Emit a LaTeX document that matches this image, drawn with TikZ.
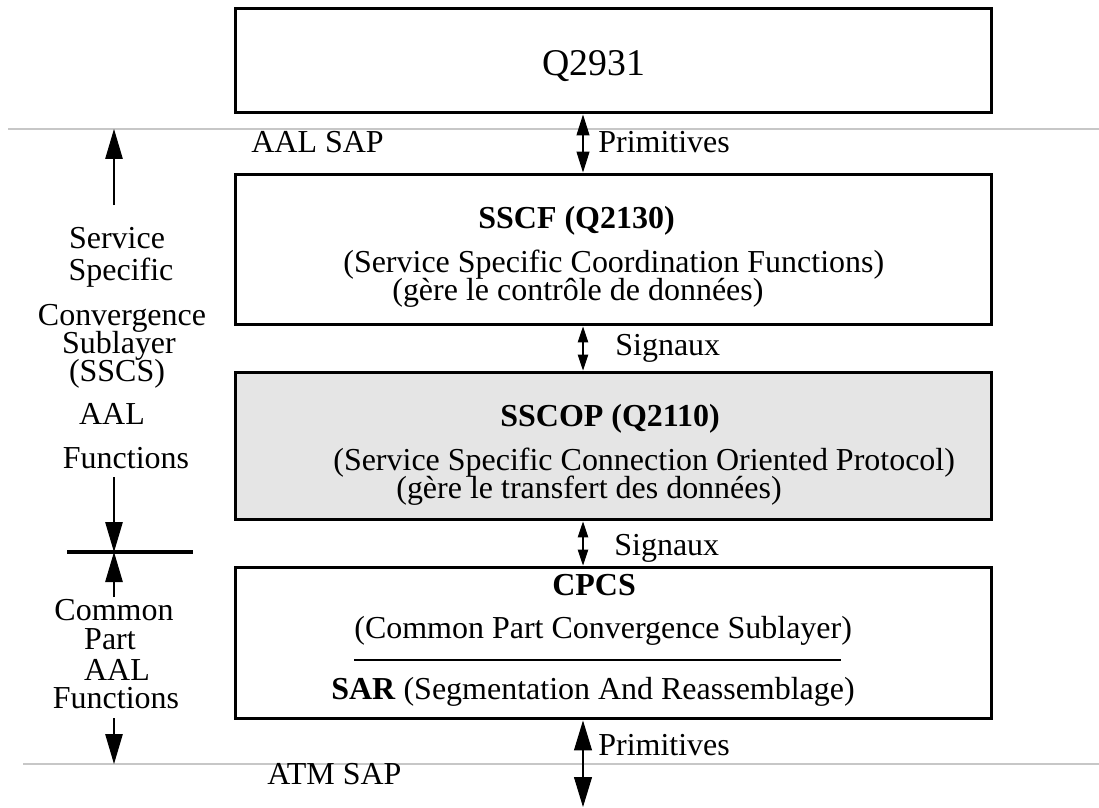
\documentclass[tikz,border=0pt]{standalone}
\usepackage{fontspec}
\setmainfont{Liberation Serif}
\usetikzlibrary{arrows.meta}

\begin{document}
\begin{tikzpicture}
      [x=0.02cm, y=-0.02cm,
       every node/.style={font=\fontsize{18.2}{22}\selectfont, inner sep=0pt},
       layer/.style={draw, line width=1.7pt, minimum width=15.14cm},
       sap/.style={draw=black!22, line width=0.7pt},
       txt/.style={anchor=base west},
       side/.style={anchor=base},
       big/.style={-{Triangle[length=0.6cm, width=0.35cm]}, line width=0.6pt},
       prim/.style={{Triangle[length=0.42cm, width=0.26cm]}-{Triangle[length=0.42cm, width=0.26cm]}, line width=0.6pt},
       sig/.style={{Triangle[length=0.32cm, width=0.21cm]}-{Triangle[length=0.32cm, width=0.21cm]}, line width=0.6pt},
       primb/.style={{Triangle[length=0.6cm, width=0.36cm]}-{Triangle[length=0.6cm, width=0.36cm]}, line width=0.6pt}]
      \useasboundingbox (0,0) rectangle (1099,808);
      % SAP lines
      \coordinate(aalw) at (8,129);
      \coordinate(aale) at (1099,129);
      \coordinate(atmw) at (23,764);
      \coordinate(atme) at (1099,764);
      \draw[sap](aalw) -- (aale);
      \draw[sap](atmw) -- (atme);
      % layers
      \node[layer, minimum height=2.1cm](q) at (613.5,60.5) {};
      \node[layer, minimum height=3.02cm](sscf) at (613.5,249.5) {};
      \node[layer, minimum height=2.96cm, fill=black!10](sscop) at (613.5,446) {};
      \node[layer, minimum height=3.04cm](cpcs) at (613.5,643) {};
      \node[txt, font=\fontsize{21.5}{26}\selectfont] at (542,75) {Q2931};
      \node[txt] at (478,228) {\bfseries SSCF (Q2130)};
      \node[txt] at (343,272) {(Service Specific Coordination Functions)};
      \node[txt] at (392,300) {(gère le contrôle de données)};
      \node[txt] at (500,426) {\bfseries SSCOP (Q2110)};
      \node[txt] at (333,470) {(Service Specific Connection Oriented Protocol)};
      \node[txt] at (396,498) {(gère le transfert des données)};
      \node[txt] at (552,595) {\bfseries CPCS};
      \node[txt] at (354,638) {(Common Part Convergence Sublayer)};
      \node[txt] at (331,699) {\textbf{SAR} (Segmentation And Reassemblage)};
      \coordinate(sepw) at (354,660);
      \coordinate(sepe) at (841,660);
      \draw[line width=1.4pt](sepw) -- (sepe);
      % primitives and signals
      \coordinate(arr) at (583,0);
      \coordinate(bot) at (583,807);
      \draw[prim](q.south -| arr) -- (sscf.north -| arr);
      \draw[sig](sscf.south -| arr) -- (sscop.north -| arr);
      \draw[sig](sscop.south -| arr) -- (cpcs.north -| arr);
      \draw[primb](cpcs.south -| arr) -- (bot);
      \node[txt] at (251,152) {AAL SAP};
      \node[txt] at (598,152) {Primitives};
      \node[txt] at (615,355) {Signaux};
      \node[txt] at (614,555) {Signaux};
      \node[txt] at (598,755) {Primitives};
      \node[txt] at (267,784) {ATM SAP};
      % AAL functions on the left
      \node[side] at (117,248) {Service};
      \node[side] at (121,280) {Specific};
      \node[side] at (122,325) {Convergence};
      \node[side] at (119,353) {Sublayer};
      \node[side] at (117,381) {(SSCS)};
      \node[side] at (112,424) {AAL};
      \node[side] at (126,468) {Functions};
      \node[side] at (114,620) {Common};
      \node[side] at (110,649) {Part};
      \node[side] at (117,680) {AAL};
      \node[side] at (116,708) {Functions};
      \coordinate(u1) at (114,205);
      \coordinate(u2) at (114 ,129);
      \coordinate(d1) at (114,477);
      \coordinate(m) at (114,552);
      \coordinate(u3) at (114,597);
      \coordinate(d2) at (114,718);
      \coordinate(d3) at (114,764);
      \coordinate(barw) at (67,552);
      \coordinate(bare) at (193,552);
      \draw[big](u1) -- (u2);
      \draw[big](d1) -- (m);
      \draw[big](u3) -- (m);
      \draw[big](d2) -- (d3);
      \draw[line width=2.8pt](barw) -- (bare);
  \end{tikzpicture}
\end{document}
